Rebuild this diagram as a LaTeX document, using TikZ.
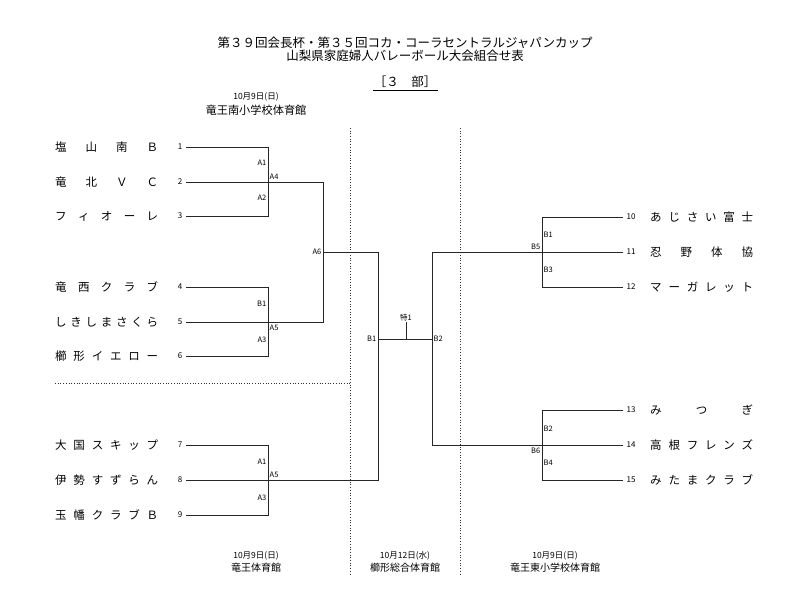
\documentclass[tikz,border=0pt]{standalone}
\usepackage{fontspec}
\setmainfont{Noto Sans CJK JP}
\newcommand{\tnm}[1]{\makebox[103pt]{#1}}
\tikzset{
  br/.style={line width=0.9pt, black!85},
  dots/.style={line width=0.8pt, black!80, dash pattern=on 0.9pt off 1.8pt},
  lab/.style={font=\fontsize{7.5}{8}\selectfont, inner sep=0.5pt},
  num/.style={font=\fontsize{8}{9}\selectfont, inner xsep=3.5pt, inner ysep=0pt},
  team/.style={font=\fontsize{11.5}{12}\selectfont, inner sep=0pt},
  ttl/.style={font=\fontsize{12.5}{13}\selectfont, inner sep=0pt},
  date/.style={font=\fontsize{8.5}{9}\selectfont, inner sep=0pt},
  venue/.style={font=\fontsize{10}{11}\selectfont, inner sep=0pt},
}
\begin{document}
\begin{tikzpicture}[x=1pt,y=-1pt]
\useasboundingbox (0,0) rectangle (800,604);
% titles
\node[ttl] (t1) at (405,43) {第３９回会長杯・第３５回コカ・コーラセントラルジャパンカップ};
\node[ttl] (t2) at (405,56) {山梨県家庭婦人バレーボール大会組合せ表};
\node[ttl] (t3) at (405,82) {［３　部］};
\coordinate (u1) at (373,90); \coordinate (u2) at (438,90);
\draw[line width=0.8pt] (u1) -- (u2);
\node[date] (d0) at (256,97) {10月9日(日)};
\node[font=\fontsize{11.2}{12}\selectfont, inner sep=0pt] (v0) at (256,110) {竜王南小学校体育館};
% bottom venues
\node[date] (d1) at (256,556) {10月9日(日)};
\node[venue] (v1) at (256,568) {竜王体育館};
\node[date] (d2) at (405,556) {10月12日(水)};
\node[venue] (v2) at (405,568) {櫛形総合体育館};
\node[date] (d3) at (555,556) {10月9日(日)};
\node[venue] (v3) at (555,568) {竜王東小学校体育館};
% dotted separators
\coordinate (p1) at (350,128); \coordinate (p2) at (350,576);
\coordinate (q1) at (460,128); \coordinate (q2) at (460,576);
\coordinate (h1) at (55,383); \coordinate (h2) at (350,383);
\draw[dots] (p1) -- (p2);
\draw[dots] (q1) -- (q2);
\draw[dots] (h1) -- (h2);
% left teams
\node[team,anchor=west] (m1) at (55,147) {\tnm{塩\hfill 山\hfill 南\hfill Ｂ}};
\node[team,anchor=west] (m2) at (55,182) {\tnm{竜\hfill 北\hfill Ｖ\hfill Ｃ}};
\node[team,anchor=west] (m3) at (55,216) {\tnm{フ\hfill ィ\hfill オ\hfill ー\hfill レ}};
\node[team,anchor=west] (m4) at (55,287) {\tnm{竜\hfill 西\hfill ク\hfill ラ\hfill ブ}};
\node[team,anchor=west] (m5) at (55,322) {\tnm{し\hfill き\hfill し\hfill ま\hfill さ\hfill く\hfill ら}};
\node[team,anchor=west] (m6) at (55,356) {\tnm{櫛\hfill 形\hfill イ\hfill エ\hfill ロ\hfill ー}};
\node[team,anchor=west] (m7) at (55,445) {\tnm{大\hfill 国\hfill ス\hfill キ\hfill ッ\hfill プ}};
\node[team,anchor=west] (m8) at (55,480) {\tnm{伊\hfill 勢\hfill す\hfill ず\hfill ら\hfill ん}};
\node[team,anchor=west] (m9) at (55,515) {\tnm{玉\hfill 幡\hfill ク\hfill ラ\hfill ブ\hfill Ｂ}};
\node[num,anchor=east] (n1) at (186,147) {1};
\node[num,anchor=east] (n2) at (186,182) {2};
\node[num,anchor=east] (n3) at (186,216) {3};
\node[num,anchor=east] (n4) at (186,287) {4};
\node[num,anchor=east] (n5) at (186,322) {5};
\node[num,anchor=east] (n6) at (186,356) {6};
\node[num,anchor=east] (n7) at (186,445) {7};
\node[num,anchor=east] (n8) at (186,480) {8};
\node[num,anchor=east] (n9) at (186,515) {9};
% right teams
\node[num,anchor=west] (n10) at (623,217) {10};
\node[num,anchor=west] (n11) at (623,252) {11};
\node[num,anchor=west] (n12) at (623,287) {12};
\node[num,anchor=west] (n13) at (623,410) {13};
\node[num,anchor=west] (n14) at (623,445) {14};
\node[num,anchor=west] (n15) at (623,480) {15};
\node[team,anchor=west] (m10) at (650,217) {\tnm{あ\hfill じ\hfill さ\hfill い\hfill 富\hfill 士}};
\node[team,anchor=west] (m11) at (650,252) {\tnm{忍\hfill 野\hfill 体\hfill 協}};
\node[team,anchor=west] (m12) at (650,287) {\tnm{マ\hfill ー\hfill ガ\hfill レ\hfill ッ\hfill ト}};
\node[team,anchor=west] (m13) at (650,410) {\tnm{み\hfill つ\hfill ぎ}};
\node[team,anchor=west] (m14) at (650,445) {\tnm{高\hfill 根\hfill フ\hfill レ\hfill ン\hfill ズ}};
\node[team,anchor=west] (m15) at (650,480) {\tnm{み\hfill た\hfill ま\hfill ク\hfill ラ\hfill ブ}};
% junction coordinates
\coordinate (c1) at (268,147); \coordinate (c3) at (268,216);
\coordinate (c4) at (268,287); \coordinate (c6) at (268,356);
\coordinate (c7) at (268,445); \coordinate (c9) at (268,515);
\coordinate (a4) at (323,182); \coordinate (a5) at (323,322);
\coordinate (a6) at (323,252); \coordinate (r1) at (378,252);
\coordinate (r8) at (378,480);
\coordinate (b1) at (378,339); \coordinate (b2) at (432,339);
\coordinate (tk) at (406,339);
\coordinate (s5) at (432,252); \coordinate (s6) at (432,445);
\coordinate (b5) at (542,252); \coordinate (b6) at (542,445);
\coordinate (e10) at (542,217); \coordinate (e12) at (542,287);
\coordinate (e13) at (542,410); \coordinate (e15) at (542,480);
% brackets
\draw[br] (n1.east) -- (c1) -- (c3) -- (n3.east);
\draw[br] (n2.east) -- (a4) -- (a5) -- (n5.east);
\draw[br] (n4.east) -- (c4) -- (c6) -- (n6.east);
\draw[br] (a6) -- (r1) -- (r8) -- (n8.east);
\draw[br] (n7.east) -- (c7) -- (c9) -- (n9.east);
\draw[br] (b1) -- (b2);
\node[lab,anchor=south] (tok) at (406,322) {特1};
\draw[br] (tok.south) -- (tk);
\draw[br] (b5) -- (s5) -- (s6) -- (b6);
\draw[br] (n10.west) -- (e10) -- (e12) -- (n12.west);
\draw[br] (b5) -- (n11.west);
\draw[br] (n13.west) -- (e13) -- (e15) -- (n15.west);
\draw[br] (b6) -- (n14.west);
% match labels
\node[lab,anchor=east] (l1) at (267,163) {A1};
\node[lab,anchor=west] (l2) at (269,177) {A4};
\node[lab,anchor=east] (l3) at (267,198) {A2};
\node[lab,anchor=east] (l4) at (267,304) {B1};
\node[lab,anchor=west] (l5) at (269,328) {A5};
\node[lab,anchor=east] (l6) at (267,340) {A3};
\node[lab,anchor=east] (l7) at (267,462) {A1};
\node[lab,anchor=west] (l8) at (269,475) {A5};
\node[lab,anchor=east] (l9) at (267,498) {A3};
\node[lab,anchor=east] (l10) at (322,252) {A6};
\node[lab,anchor=east] (l11) at (377,339) {B1};
\node[lab,anchor=west] (l12) at (433,339) {B2};
\node[lab,anchor=west] (l13) at (543,235) {B1};
\node[lab,anchor=east] (l14) at (541,247) {B5};
\node[lab,anchor=west] (l15) at (543,270) {B3};
\node[lab,anchor=west] (l16) at (543,429) {B2};
\node[lab,anchor=east] (l17) at (541,451) {B6};
\node[lab,anchor=west] (l18) at (543,463) {B4};
\end{tikzpicture}
\end{document}
